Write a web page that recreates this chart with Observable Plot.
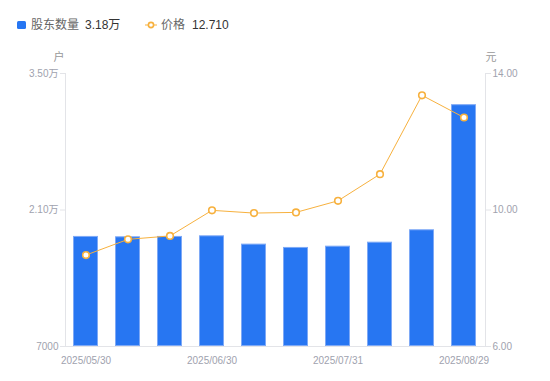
<!DOCTYPE html>
<html><head><meta charset="utf-8">
<script src="https://cdn.jsdelivr.net/npm/d3@7"></script>
<script src="https://cdn.jsdelivr.net/npm/@observablehq/plot@0.6"></script>
<style>
body{margin:0;background:#fff;font-family:"Liberation Sans","Noto Sans CJK SC",sans-serif;}
#legend{position:relative;height:45px;width:550px;font-size:12px;}
#legend span{position:absolute;top:17px;line-height:16px;white-space:nowrap;}
.sw{position:absolute;}
</style></head>
<body>
<div id="legend"></div>
<div id="chart"></div>
<script>
const dates = ["2025/05/30","2025/06/10","2025/06/20","2025/06/30","2025/07/10","2025/07/20","2025/07/31","2025/08/10","2025/08/20","2025/08/29"];
const holders = [18290, 18250, 18290, 18350, 17500, 17160, 17290, 17700, 18970, 31800];
const prices = [8.68, 9.14, 9.24, 9.99, 9.91, 9.93, 10.27, 11.05, 13.36, 12.71];
const leftTicks = [7000, 21000, 35000];
const rightTicks = [6, 10, 14];
const xTickLabels = ["2025/05/30","2025/06/30","2025/07/31","2025/08/29"];

const data = dates.map((d,i)=>({date:d, holders:holders[i], price:prices[i]}));

// map price axis onto holder scale
const toLeft = p => leftTicks[0] + (p - rightTicks[0]) * (leftTicks[2]-leftTicks[0])/(rightTicks[2]-rightTicks[0]);
const fromLeft = v => rightTicks[0] + (v - leftTicks[0]) * (rightTicks[2]-rightTicks[0])/(leftTicks[2]-leftTicks[0]);
const fmtLeft = v => v >= 10000 ? (v/10000).toFixed(2) + "万" : String(v);

const blue = "#2776f2", orange = "#f7b13e", axisCol = "#e3e4e8", tickText = "#a0a2ae";

// legend
const lg = document.getElementById("legend");
lg.innerHTML = `
<div class="sw" style="left:17px;top:21px;width:9px;height:8px;background:${blue};border-radius:1.5px"></div>
<span style="left:31px;color:#666">股东数量</span>
<span style="left:85px;color:#333">${fmtLeft(holders[holders.length-1])}</span>
<svg class="sw" style="left:145px;top:20px" width="12" height="10"><line x1="0" y1="5" x2="12" y2="5" stroke="${orange}" stroke-width="1"/><circle cx="6" cy="5" r="2.6" fill="#fff" stroke="${orange}" stroke-width="1.6"/></svg>
<span style="left:161px;color:#666">价格</span>
<span style="left:192px;color:#333">${prices[prices.length-1].toFixed(3)}</span>`;

const chart = Plot.plot({
  width: 550, height: 336,
  marginTop: 28, marginBottom: 35, marginLeft: 65, marginRight: 65,
  style: {fontFamily: '"Liberation Sans","Noto Sans CJK SC",sans-serif', fontSize: "10px", background: "#fff"},
  x: {type: "band", domain: dates, paddingInner: 0.4, paddingOuter: 0.2, axis: null},
  y: {domain: [leftTicks[0], leftTicks[2]], axis: null},
  marks: [
    Plot.frame({anchor: "left", stroke: axisCol}),
    Plot.frame({anchor: "right", stroke: axisCol}),
    Plot.frame({anchor: "bottom", stroke: axisCol}),
    Plot.barY(data, {x: "date", y1: leftTicks[0], y2: "holders", fill: blue, stroke: "#7ea9f6", strokeWidth: 1, inset: 0.5}),
    Plot.line(data, {x: "date", y: d => toLeft(d.price), stroke: orange, strokeWidth: 1}),
    Plot.dot(data, {x: "date", y: d => toLeft(d.price), r: 3.3, fill: "#fff", stroke: orange, strokeWidth: 1.6}),
    Plot.axisY({anchor: "left", ticks: leftTicks, tickFormat: fmtLeft, tickSize: 5, tickPadding: 2, stroke: axisCol, fill: tickText, label: null}),
    Plot.axisY({anchor: "right", ticks: rightTicks.map(toLeft), tickFormat: v => fromLeft(v).toFixed(2), tickSize: 5, tickPadding: 2, stroke: axisCol, fill: tickText, label: null}),
    Plot.axisX({ticks: xTickLabels, tickSize: 0, tickPadding: 10, fill: tickText, label: null}),
    Plot.text(["户"], {frameAnchor: "top-left", dx: -12, dy: -20, fill: "#999", fontSize: 11}),
    Plot.text(["元"], {frameAnchor: "top-right", dx: 11, dy: -20, fill: "#999", fontSize: 11})
  ]
});
document.getElementById("chart").appendChild(chart);
</script>
</body></html>
